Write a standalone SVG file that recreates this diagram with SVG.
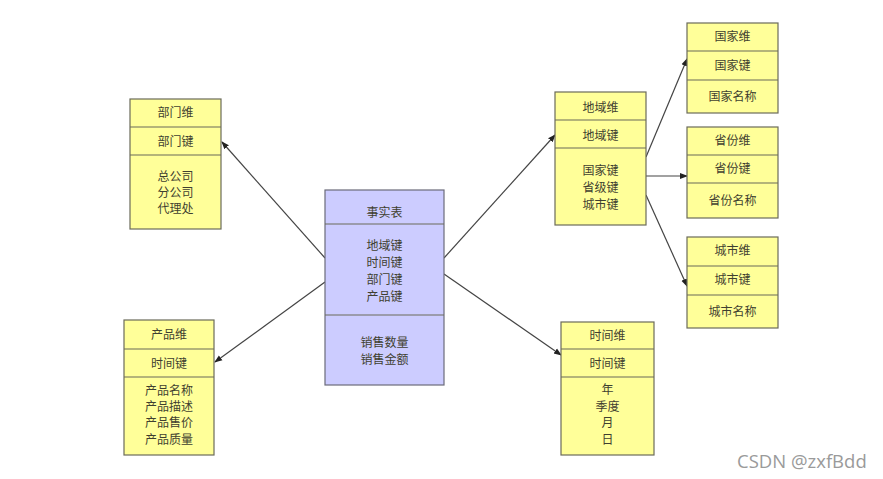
<svg xmlns="http://www.w3.org/2000/svg" width="883" height="479" viewBox="0 0 883 479">
<style>
.y{fill:#FFFF99;stroke:#6b6b5a;stroke-width:1.2}
.c{fill:#CCCCFF;stroke:#6b6b7a;stroke-width:1.2}
.d{stroke:#6b6b5a;stroke-width:1.2}
text{font-family:"Noto Sans CJK SC","Liberation Sans",sans-serif;font-size:12px;fill:#3f3f30;text-anchor:middle}
.w{font-family:"Open Sans","Liberation Sans",sans-serif;font-size:18.5px;fill:#9a9a9a;text-anchor:start}
.e{stroke:#444;stroke-width:1.2;fill:none;marker-end:url(#ah)}
</style>
<defs>
<marker id="ah" markerWidth="8" markerHeight="8" refX="7" refY="4" orient="auto" markerUnits="userSpaceOnUse">
<path d="M0,1 L8,4 L0,7 Z" fill="#222"/>
</marker>
</defs>
<rect width="883" height="479" fill="#fff"/>
<g id="connectors">
<line class="e" x1="325" y1="258" x2="222" y2="142"/>
<line class="e" x1="325" y1="282" x2="215" y2="362"/>
<line class="e" x1="444" y1="258" x2="555" y2="135"/>
<line class="e" x1="444" y1="274" x2="561" y2="355"/>
<line class="e" x1="646" y1="157" x2="687" y2="59"/>
<line class="e" x1="646" y1="176" x2="687" y2="176"/>
<line class="e" x1="646" y1="195" x2="687" y2="286"/>
</g>
<g id="dept">
<rect class="y" x="130" y="99" width="91" height="130"/>
<line class="d" x1="130" y1="127" x2="221" y2="127"/>
<line class="d" x1="130" y1="155" x2="221" y2="155"/>
<text x="175.5" y="117">部门维</text>
<text x="175.5" y="146">部门键</text>
<text x="175.5" y="181">总公司</text>
<text x="175.5" y="197">分公司</text>
<text x="175.5" y="213">代理处</text>
</g>
<g id="product">
<rect class="y" x="124" y="320" width="90" height="135"/>
<line class="d" x1="124" y1="349" x2="214" y2="349"/>
<line class="d" x1="124" y1="377" x2="214" y2="377"/>
<text x="169" y="339">产品维</text>
<text x="169" y="368">时间键</text>
<text x="169" y="395">产品名称</text>
<text x="169" y="411">产品描述</text>
<text x="169" y="427">产品售价</text>
<text x="169" y="444">产品质量</text>
</g>
<g id="fact">
<rect class="c" x="325" y="190" width="119" height="195"/>
<line class="d" x1="325" y1="224" x2="444" y2="224"/>
<line class="d" x1="325" y1="315" x2="444" y2="315"/>
<text x="384.5" y="217">事实表</text>
<text x="384.5" y="250">地域键</text>
<text x="384.5" y="267">时间键</text>
<text x="384.5" y="284">部门键</text>
<text x="384.5" y="301">产品键</text>
<text x="384.5" y="347">销售数量</text>
<text x="384.5" y="364">销售金额</text>
</g>
<g id="region">
<rect class="y" x="555" y="92" width="91" height="133"/>
<line class="d" x1="555" y1="120" x2="646" y2="120"/>
<line class="d" x1="555" y1="148" x2="646" y2="148"/>
<text x="600.5" y="112">地域维</text>
<text x="600.5" y="140">地域键</text>
<text x="600.5" y="175">国家键</text>
<text x="600.5" y="192">省级键</text>
<text x="600.5" y="209">城市键</text>
</g>
<g id="country">
<rect class="y" x="687" y="23" width="91" height="90"/>
<line class="d" x1="687" y1="51" x2="778" y2="51"/>
<line class="d" x1="687" y1="80" x2="778" y2="80"/>
<text x="732.5" y="41">国家维</text>
<text x="732.5" y="70">国家键</text>
<text x="732.5" y="101">国家名称</text>
</g>
<g id="province">
<rect class="y" x="687" y="127" width="91" height="91"/>
<line class="d" x1="687" y1="155" x2="778" y2="155"/>
<line class="d" x1="687" y1="183" x2="778" y2="183"/>
<text x="732.5" y="145">省份维</text>
<text x="732.5" y="173">省份键</text>
<text x="732.5" y="205">省份名称</text>
</g>
<g id="city">
<rect class="y" x="687" y="237" width="91" height="91"/>
<line class="d" x1="687" y1="266" x2="778" y2="266"/>
<line class="d" x1="687" y1="295" x2="778" y2="295"/>
<text x="732.5" y="255">城市维</text>
<text x="732.5" y="284">城市键</text>
<text x="732.5" y="316">城市名称</text>
</g>
<g id="time">
<rect class="y" x="561" y="322" width="93" height="133"/>
<line class="d" x1="561" y1="349" x2="654" y2="349"/>
<line class="d" x1="561" y1="377" x2="654" y2="377"/>
<text x="607.5" y="340">时间维</text>
<text x="607.5" y="368">时间键</text>
<text x="607.5" y="394">年</text>
<text x="607.5" y="411">季度</text>
<text x="607.5" y="427">月</text>
<text x="607.5" y="444">日</text>
</g>
<text class="w" x="737" y="468">CSDN @zxfBdd</text>
</svg>
